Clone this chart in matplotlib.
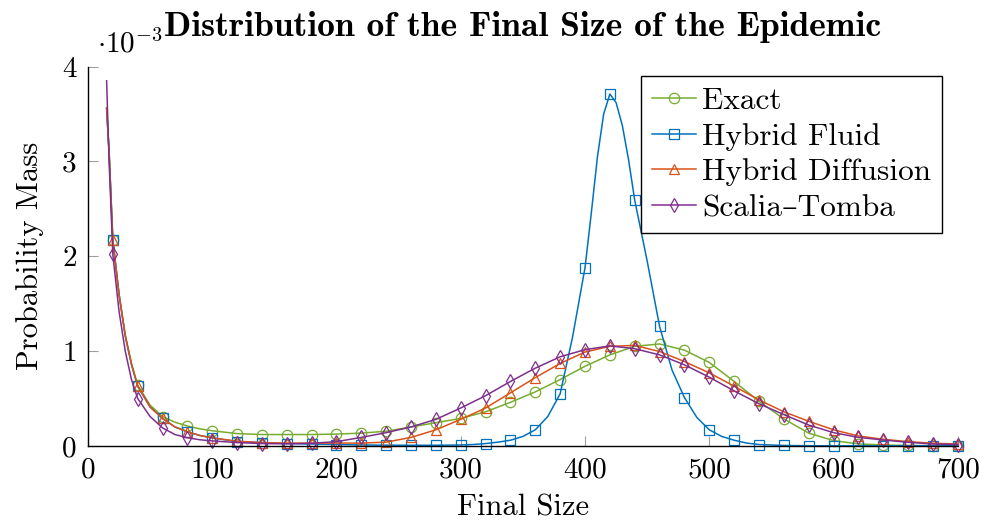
import numpy as np
import matplotlib
matplotlib.use("Agg")
import matplotlib.pyplot as plt

# === Data (probability mass, in units of 1e-3) ===
final_size = [15, 17, 20, 25, 30, 35, 40, 50, 60, 70, 80, 90, 100,
              120, 140, 160, 180, 200, 220, 240, 260, 280, 300, 320, 340, 360, 380, 400,
              420, 440, 460, 480, 500, 520, 540, 560, 580, 600, 620, 640, 660, 680, 700]

exact = [3.56, 3.10, 2.17, 1.60, 1.17, 0.87, 0.64, 0.43, 0.31, 0.25, 0.21, 0.18, 0.16,
         0.13, 0.12, 0.12, 0.12, 0.125, 0.135, 0.155, 0.20, 0.245, 0.29, 0.36, 0.46, 0.57, 0.70, 0.84,
         0.96, 1.05, 1.075, 1.01, 0.88, 0.68, 0.47, 0.285, 0.135, 0.056, 0.021, 0.01, 0.005, 0.002, 0.001]

hybrid_diffusion = [3.56, 3.10, 2.17, 1.60, 1.16, 0.86, 0.63, 0.41, 0.29, 0.20, 0.15, 0.11, 0.085,
                    0.05, 0.035, 0.03, 0.03, 0.03, 0.03, 0.04, 0.09, 0.17, 0.28, 0.40, 0.56, 0.72, 0.87, 0.99,
                    1.05, 1.06, 0.995, 0.89, 0.77, 0.63, 0.485, 0.36, 0.26, 0.17, 0.105, 0.07, 0.045, 0.028, 0.02]

scalia_tomba = [3.85, 3.00, 2.02, 1.42, 1.00, 0.70, 0.50, 0.31, 0.19, 0.12, 0.086, 0.065, 0.053,
                0.035, 0.025, 0.022, 0.028, 0.045, 0.09, 0.14, 0.20, 0.28, 0.40, 0.53, 0.68, 0.82, 0.94, 1.015,
                1.055, 1.025, 0.96, 0.855, 0.725, 0.58, 0.445, 0.33, 0.22, 0.14, 0.09, 0.063, 0.038, 0.02, 0.015]

# hybrid fluid is much sharper, so it gets a finer grid around the peak
fluid_size = [15, 17, 20, 25, 30, 35, 40, 50, 60, 70, 80, 90, 100,
              120, 140, 160, 180, 200, 220, 240, 260, 280, 300,
              310, 320, 330, 340, 350, 360, 370, 380, 390, 400,
              405, 410, 415, 420, 425, 430, 435, 440,
              450, 460, 470, 480, 490, 500, 510, 520, 530, 540,
              560, 580, 600, 620, 640, 660, 680, 700]

hybrid_fluid = [3.56, 3.10, 2.17, 1.60, 1.16, 0.86, 0.63, 0.41, 0.29, 0.20, 0.15, 0.11, 0.085,
                0.046, 0.035, 0.025, 0.02, 0.015, 0.01, 0.008, 0.007, 0.007, 0.01,
                0.015, 0.025, 0.04, 0.06, 0.10, 0.17, 0.31, 0.55, 1.15, 1.88,
                2.45, 3.05, 3.50, 3.71, 3.62, 3.38, 3.02, 2.59,
                1.95, 1.26, 0.80, 0.51, 0.30, 0.17, 0.10, 0.06, 0.03, 0.015,
                0.005, 0.002, 0.001, 0.001, 0.001, 0.001, 0.001, 0.001]

x_ticks = [0, 100, 200, 300, 400, 500, 600, 700]
y_ticks = [0, 1, 2, 3, 4]

# === Style ===
plt.rcParams['font.family'] = ['cmr10', 'DejaVu Serif']
plt.rcParams['mathtext.fontset'] = 'cm'
plt.rcParams['axes.unicode_minus'] = False


def marks(xs):
    # markers every 20 units
    return [i for i, v in enumerate(xs) if v % 20 == 0 and v > 0]


series = [
    ("Exact", final_size, exact, "#77ac30", "o", 7.5),
    ("Hybrid Fluid", fluid_size, hybrid_fluid, "#0072bd", "s", 7),
    ("Hybrid Diffusion", final_size, hybrid_diffusion, "#d95319", "^", 7.5),
    ("Scalia\u2013Tomba", final_size, scalia_tomba, "#7e2f8e", "d", 7.5),
]

fig = plt.figure(figsize=(9.84, 5.24), dpi=100)
ax = fig.add_axes([0.0894, 0.149, 0.884, 0.724])

for label, xs, ys, color, marker, ms in series:
    ax.plot(xs, ys, color=color, lw=1.1, marker=marker, markersize=ms,
            markerfacecolor="none", markeredgewidth=0.9, markevery=marks(xs),
            label=label, clip_on=False)

ax.set_xlim(0, 700)
ax.set_ylim(0, 4)
ax.set_xticks(x_ticks)
ax.set_yticks(y_ticks)
ax.tick_params(direction="in", length=7, width=0.8, color="#a0a0a0",
               labelsize=21, labelcolor="black", pad=8)
for side in ["top", "right"]:
    ax.spines[side].set_visible(False)
for side in ["left", "bottom"]:
    ax.spines[side].set_linewidth(1.0)

ax.set_xlabel("Final Size", fontsize=22, labelpad=8)
ax.set_ylabel("Probability Mass", fontsize=22, labelpad=13)
ax.set_title("Distribution of the Final Size of the Epidemic", fontsize=25.6,
             fontfamily=["cmb10", "DejaVu Serif"], pad=22)
ax.text(0.01, 1.02, r"$\cdot 10^{-3}$", transform=ax.transAxes, fontsize=21,
        ha="left", va="bottom")

leg = ax.legend(loc="upper right", bbox_to_anchor=(0.982, 0.975), borderaxespad=0,
                fontsize=22.5, fancybox=False, framealpha=1, edgecolor="black",
                handlelength=1.4, borderpad=0.35, labelspacing=0.25, handletextpad=0.2)
leg.get_frame().set_linewidth(1.0)

plt.savefig("out.png", dpi=100)
plt.close()
